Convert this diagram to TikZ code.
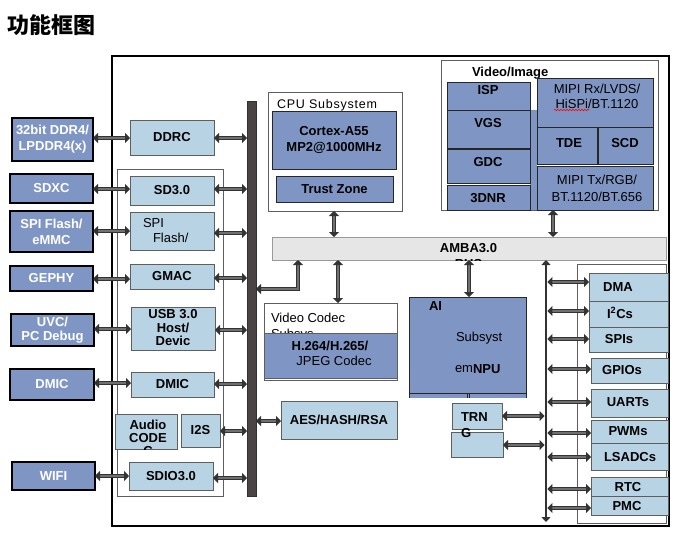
\documentclass[tikz,border=0pt]{standalone}
\usepackage{fontspec}
\setmainfont{Liberation Sans}
\newfontfamily\cjk{Noto Sans CJK SC}
\usetikzlibrary{arrows.meta,decorations.pathmorphing,calc}
\definecolor{bd}{HTML}{7F96C4}
\definecolor{bl}{HTML}{B7D3E4}
\definecolor{busc}{HTML}{4A4544}
\definecolor{arrc}{HTML}{333333}
\definecolor{ambac}{HTML}{E6E6E6}
\definecolor{edg}{HTML}{5E5E5E}
\newcommand{\fz}[2]{\fontsize{#1}{#2}\selectfont}
\newcommand{\Bx}[7]{\node[#1, anchor=north west, minimum width={(#5)-(#3)}, minimum height={(#6)-(#4)}] (#2) at (#3,#4) {#7};}
\newcommand{\HA}[3]{\draw[arr] (#1.east |- 0,#3) -- (#2.west |- 0,#3);}
\begin{document}
\begin{tikzpicture}[x=1pt,y=-1pt,line join=miter,
  every node/.style={inner sep=0pt, outer sep=0pt},
  ext/.style={fill=bd, draw=black, line width=1.2pt, text=white, font=\bfseries\fz{13}{16}, align=center},
  lt/.style={fill=bl, draw=edg, line width=0.9pt, font=\bfseries\fz{13}{15}, align=center},
  dk/.style={fill=bd, draw=black!85, line width=1pt, font=\bfseries\fz{13}{16}, align=center},
  grp/.style={draw=edg, line width=0.8pt, fill=white},
  busbar/.style={fill=busc, draw=busc!70!black, line width=0.6pt},
  ambabar/.style={fill=ambac, draw=gray!80, line width=0.8pt},
  arr/.style={draw=arrc, line width=1.4pt, double=arrc!70, double distance=1.3pt,
     {Triangle[length=5pt,width=10pt]}-{Triangle[length=5pt,width=10pt]}},
  tb/.style={font=\bfseries\fz{13}{15}, align=center},
  tr/.style={font=\fz{13}{15}, align=center},
]
\useasboundingbox (0,0) rectangle (676,544);

% title
\node[anchor=west, font=\cjk\bfseries\fz{22}{24}] (title) at (7,25) {功能框图};

% main frame
\Bx{draw=black, line width=1.3pt}{main}{112}{56}{669}{526}{}

% left group and bus
\Bx{grp}{lgrp}{117}{169}{223}{496}{}
\Bx{busbar}{bus}{247}{101}{256}{496}{}

% external boxes
\Bx{ext}{ddr}{12}{118}{93}{161}{32bit DDR4/\\LPDDR4(x)}
\Bx{ext}{sdxc}{10}{174}{93}{203}{SDXC}
\Bx{ext}{spif}{10}{211}{93}{252}{SPI Flash/\\eMMC}
\Bx{ext}{gephy}{10}{266}{93}{291}{GEPHY}
\Bx{ext}{uvc}{11}{314}{94}{346}{UVC/\\[-2pt]PC Debug}
\Bx{ext}{dmicx}{10}{369}{94}{400}{DMIC}
\Bx{ext}{wifi}{12}{462}{95}{490}{WIFI}

% inner left boxes
\Bx{lt}{ddrc}{130}{120}{214}{155}{DDRC}
\Bx{lt}{sd}{130}{176}{214}{205}{SD3.0}
\Bx{lt}{spi}{130}{212}{214}{250}{}
\node[anchor=west, font=\fz{13}{15}] (spiA) at (143,223) {SPI};
\node[anchor=west, font=\fz{13}{15}] (spiB) at (153,238) {Flash/};
\Bx{lt}{gmac}{130}{264}{214}{289}{GMAC}
\Bx{lt}{usb}{131}{307}{215}{350}{}
\node[tb, font=\bfseries\fz{13}{13.5}] (usbT) at (173,328) {USB 3.0\\Host/\\Devic};
\Bx{lt}{dmic}{131}{372}{214}{397}{DMIC}
\Bx{lt}{audio}{115}{414}{177}{449}{}
\begin{scope}
\clip (115,414) rectangle (177,449);
\node[tb, font=\bfseries\fz{13}{13}] (audioT) at (148,438) {Audio\\CODE\\C};
\end{scope}
\Bx{lt}{i2s}{181}{414}{220}{447}{I2S}
\Bx{lt}{sdio}{129}{462}{213}{490}{SDIO3.0}

% CPU subsystem
\Bx{grp}{cpu}{268}{92}{402}{211}{}
\node[anchor=west, font=\fz{12.5}{14}\addfontfeature{LetterSpace=6}] (cpuT) at (277,105) {CPU Subsystem};
\Bx{dk}{cortex}{272}{111}{396}{169}{Cortex-A55\\MP2@1000MHz}
\Bx{dk}{trust}{276}{176}{393}{202}{Trust Zone}

% Video / Image
\Bx{grp}{vid}{441}{60}{658}{210}{}
\node[anchor=west, font=\bfseries\fz{13}{15}] (vidT) at (472,73) {Video/Image};
\Bx{fill=bd}{strip}{530}{110}{537}{210}{}
\Bx{dk}{isp}{447}{82}{530}{110}{}
\Bx{dk}{vgs}{447}{110}{530}{148}{}
\Bx{dk}{gdc}{447}{149.5}{530}{183}{}
\Bx{dk}{dnr}{447}{185.5}{530}{210}{}
\node[tb] (ispT) at (488,90) {ISP};
\node[tb] (vgsT) at (488,123) {VGS};
\node[tb] (gdcT) at (488,162) {GDC};
\node[tb] (dnrT) at (488,198) {3DNR};
\Bx{dk}{mrx}{537}{78}{653}{127}{}
\node[tr, font=\fz{13}{15}] (mrxT) at (597,96) {MIPI Rx/LVDS/\\HiSPi/BT.1120};
\draw[red, line width=0.6pt, decorate, decoration={snake, amplitude=0.8pt, segment length=3pt}] (554,110) -- (589,110);
\Bx{dk}{tde}{537}{127}{597}{164}{}
\Bx{dk}{scd}{598.5}{127}{653}{164}{}
\node[tb] (tdeT) at (569,143) {TDE};
\node[tb] (scdT) at (625,143) {SCD};
\Bx{dk}{mtx}{537}{166}{653}{210}{}
\node[tr, font=\fz{13}{17}] (mtxT) at (597,188.5) {MIPI Tx/RGB/\\BT.1120/BT.656};

% AMBA bus
\Bx{ambabar}{amba}{272}{237}{666}{260}{}
\begin{scope}
\clip (272,237) rectangle (666,260.6);
\node[anchor=base, font=\bfseries\fz{13}{15}] (ambaT) at (468.5,252.6) {AMBA3.0};
\node[anchor=base, font=\bfseries\fz{13}{15}] (busT) at (468.5,268.5) {BUS};
\end{scope}

% Video codec
\Bx{grp}{vc}{264}{303}{397}{380}{}
\node[anchor=base west, font=\fz{13}{15}] (vcA) at (271,322) {Video Codec};
\node[anchor=base west, font=\fz{13}{15}] (vcB) at (271,338) {Subsys};
\Bx{fill=bd, draw=edg, line width=0.8pt}{h264}{264}{333}{397}{378}{}
\node[tb] (h264A) at (330,346) {H.264/H.265/};
\node[tr] (h264B) at (334,361) {JPEG Codec};

% AI subsystem
\Bx{fill=bd}{ai}{409}{297}{526}{398}{}
\draw[black!85, line width=1pt] (ai.south west) -- (ai.north west) -- (ai.north east) -- (ai.south east);
\draw[black!85, line width=0.8pt] (409,393) -- (526,393);
\draw[black!85, line width=0.8pt] (467,393) -- (467,398) (469.5,393) -- (469.5,398);
\node[anchor=west, font=\bfseries\fz{13}{15}] (aiA) at (429,306) {AI};
\node[anchor=west, font=\fz{13}{15}] (aiB) at (456,338) {Subsyst};
\node[anchor=west, font=\fz{13}{15}] (aiC) at (455,369) {em};
\node[anchor=west, font=\bfseries\fz{13}{15}] (aiD) at (473,369) {NPU};

% AES, TRNG
\Bx{lt}{aes}{281}{401}{397}{439}{AES/HASH/RSA}
\Bx{lt}{trng}{452}{403}{502}{429}{}
\Bx{lt}{trng2}{451}{432}{503}{457}{}
\node[anchor=west, font=\bfseries\fz{13}{15}] (trngA) at (461,417) {TRN};
\node[anchor=west, font=\bfseries\fz{13}{15}] (trngB) at (461,433) {G};

% peripherals
\Bx{grp}{pgrp}{577}{264}{666}{523}{}
\Bx{lt}{dma}{589}{273}{668}{301}{}
\Bx{lt}{i2c}{589}{301}{668}{327}{}
\Bx{lt}{spis}{589}{327}{668}{352}{}
\Bx{lt}{gpio}{591}{358}{668}{383}{}
\Bx{lt}{uart}{591}{389}{668}{417}{}
\Bx{lt}{pwm}{591}{420}{668}{443}{}
\Bx{lt}{lsadc}{591}{443}{668}{470}{}
\Bx{lt}{rtc}{591}{477}{668}{496}{}
\Bx{lt}{pmc}{591}{496}{668}{515}{}
\node[tb] (dmaT) at (618,287) {DMA};
\node[tb] (i2cT) at (620,313) {I\textsuperscript{2}Cs};
\node[tb] (spisT) at (619,339) {SPIs};
\node[tb] (gpioT) at (622,370) {GPIOs};
\node[tb] (uartT) at (628,402) {UARTs};
\node[tb] (pwmT) at (628,431) {PWMs};
\node[tb] (lsadcT) at (630,457) {LSADCs};
\node[tb] (rtcT) at (628,487) {RTC};
\node[tb] (pmcT) at (627,506) {PMC};

% ---------- connectors ----------
% external to inner
\HA{ddr}{ddrc}{138}
\HA{sdxc}{sd}{189}
\HA{spif}{spi}{231}
\HA{gephy}{gmac}{279}
\HA{uvc}{usb}{329}
\HA{dmicx}{dmic}{383}
\HA{wifi}{sdio}{476}
% inner to bus
\HA{ddrc}{bus}{138}
\HA{sd}{bus}{189}
\HA{spi}{bus}{233}
\HA{gmac}{bus}{278}
\HA{usb}{bus}{330}
\HA{dmic}{bus}{384}
\HA{i2s}{bus}{431}
\HA{sdio}{bus}{478}
% bus to AES
\draw[arr] (bus.east |- 0,421) -- (aes.west |- 0,421);
% vertical links to AMBA
\draw[arr] (cpu.south -| 334,0) -- (amba.north -| 334,0);
\draw[arr] (vid.south -| 553,0) -- (amba.north -| 553,0);
\draw[arr] (amba.south -| 338,0) -- (vc.north -| 338,0);
\draw[arr] (amba.south -| 469,0) -- (ai.north -| 469,0);
\coordinate (elb) at (298,289);
\draw[arr] (amba.south -| elb) -- (elb) -- (bus.east |- elb);
% right bus
\coordinate (rbB) at (546,522);
\draw[arrc, line width=2.8pt, {Triangle[length=5pt,width=9pt]}-{Triangle[length=5pt,width=9pt]}] (amba.south -| rbB) -- (rbB);
\coordinate (rbE) at (547.4,0);
\coordinate (rbW) at (544.6,0);
\draw[arr] (trng.east |- 0,416) -- (rbW |- 0,416);
\draw[arr] (trng2.east |- 0,445) -- (rbW |- 0,445);
\draw[arr] (rbE |- 0,282) -- (dma.west |- 0,282);
\draw[arr] (rbE |- 0,311) -- (i2c.west |- 0,311);
\draw[arr] (rbE |- 0,339) -- (spis.west |- 0,339);
\draw[arr] (rbE |- 0,369) -- (gpio.west |- 0,369);
\draw[arr] (rbE |- 0,402) -- (uart.west |- 0,402);
\draw[arr] (rbE |- 0,433) -- (pwm.west |- 0,433);
\draw[arr] (rbE |- 0,457) -- (lsadc.west |- 0,457);
\draw[arr] (rbE |- 0,489) -- (rtc.west |- 0,489);
\draw[arr] (rbE |- 0,508) -- (pmc.west |- 0,508);
\end{tikzpicture}
\end{document}
